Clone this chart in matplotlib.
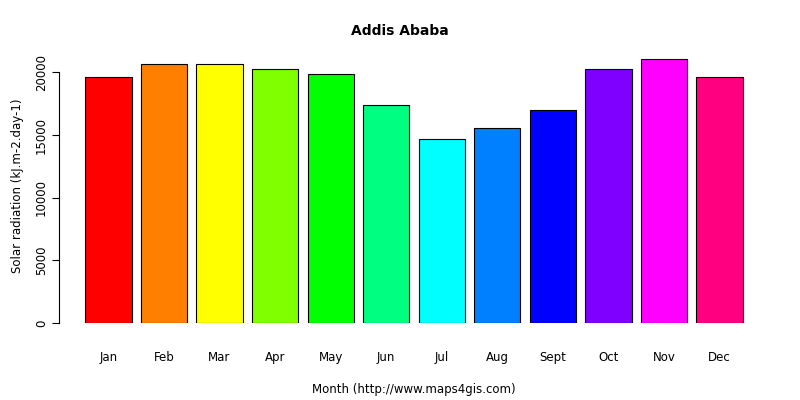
import matplotlib
matplotlib.use("Agg")
import matplotlib.pyplot as plt

months = ["Jan","Feb","Mar","Apr","May","Jun","Jul","Aug","Sept","Oct","Nov","Dec"]
values = [19650, 20700, 20640, 20300, 19900, 17420, 14650, 15600, 17020, 20300, 21100, 19650]
colors = ["#FF0000","#FF8000","#FFFF00","#80FF00","#00FF00","#00FF80",
          "#00FFFF","#0080FF","#0000FF","#8000FF","#FF00FF","#FF0080"]
yticks = [0, 5000, 10000, 15000, 20000]

fig = plt.figure(figsize=(8, 4), dpi=100)
ax = fig.add_axes([59/800, 77/400, 710/800, 275/400])
x = [0.7 + 1.2*i for i in range(len(months))]
ax.bar(x, values, width=1.0, color=colors, edgecolor="black", linewidth=0.8)
xmin, xmax = -0.368, 14.968
ax.set_xlim(xmin, xmax)
ymax = max(values) * 1.04
ax.set_ylim(0, ymax)
for s in ax.spines.values():
    s.set_visible(False)
ax.set_xticks(x)
ax.set_xticklabels(months, fontsize=8.5)
ax.tick_params(axis="x", length=0, pad=20)
ax.set_yticks(yticks)
ax.set_yticklabels([str(v) for v in yticks], rotation=90, va="center", fontsize=8.5)
ax.tick_params(axis="y", length=5, pad=3)
ax.plot([xmin, xmin], [0, 20000], color="black", lw=0.8, clip_on=False)
ax.set_xlabel("Month (http://www.maps4gis.com)", fontsize=8.5, labelpad=14)
ax.set_ylabel("Solar radiation (kJ.m-2.day-1)", fontsize=8.5, labelpad=8)
fig.text(0.5, 1-31/400, "Addis Ababa", ha="center", va="center", fontsize=10, fontweight="bold")
fig.savefig("out.png")
